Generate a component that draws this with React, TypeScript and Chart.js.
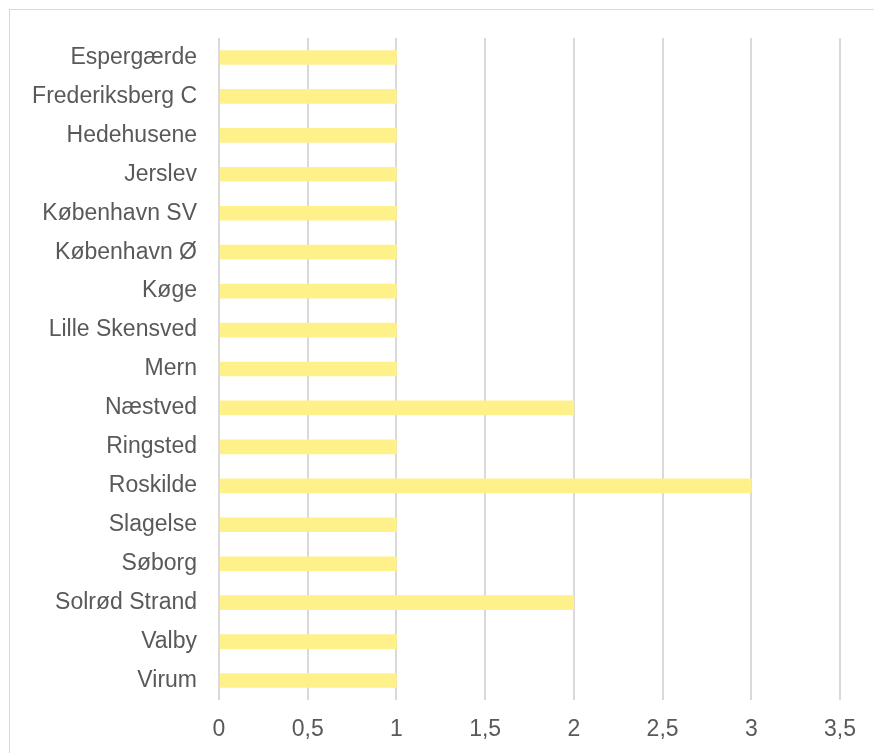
import React, { useEffect, useRef } from "react";
import { Chart, registerables } from "chart.js";

Chart.register(...registerables);

const categories: string[] = [
  "Espergærde",
  "Frederiksberg C",
  "Hedehusene",
  "Jerslev",
  "København SV",
  "København Ø",
  "Køge",
  "Lille Skensved",
  "Mern",
  "Næstved",
  "Ringsted",
  "Roskilde",
  "Slagelse",
  "Søborg",
  "Solrød Strand",
  "Valby",
  "Virum",
];

const values: number[] = [1, 1, 1, 1, 1, 1, 1, 1, 1, 2, 1, 3, 1, 1, 2, 1, 1];

const xMin = 0;
const xMax = 3.5;
const xStep = 0.5;

export default function App() {
  const canvasRef = useRef<HTMLCanvasElement | null>(null);

  useEffect(() => {
    document.body.style.overflow = "hidden";
    const canvas = canvasRef.current;
    if (!canvas) return;
    const chart = new Chart(canvas, {
      type: "bar",
      data: {
        labels: categories,
        datasets: [
          {
            data: values,
            backgroundColor: "#FFF18A",
            borderWidth: 0,
            barThickness: 14,
          },
        ],
      },
      options: {
        indexAxis: "y",
        animation: false,
        responsive: false,
        maintainAspectRatio: false,
        layout: { padding: { top: 38, right: 34, left: 0, bottom: 0 } },
        plugins: {
          legend: { display: false },
          tooltip: { enabled: false },
        },
        scales: {
          x: {
            min: xMin,
            max: xMax,
            border: { display: false },
            grid: {
              color: "#D9D9D9",
              lineWidth: 2,
              drawTicks: false,
              tickLength: 0,
            },
            ticks: {
              stepSize: xStep,
              padding: 16,
              color: "#595959",
              font: { family: "'Liberation Sans', Arial, sans-serif", size: 23 },
              callback: (v: any) => String(Number(v)).replace(".", ","),
            },
            afterFit: (scale: any) => {
              scale.height = 53;
            },
          },
          y: {
            border: { display: false },
            grid: { display: false, drawTicks: false, tickLength: 0 },
            ticks: {
              padding: 22,
              color: "#595959",
              font: { family: "'Liberation Sans', Arial, sans-serif", size: 23 },
            },
            afterFit: (scale: any) => {
              scale.width = 219;
            },
          },
        },
      },
    });
    return () => chart.destroy();
  }, []);

  return (
    <div style={{ position: "fixed", left: 0, top: 0, width: 874, height: 753, background: "#fff", overflow: "hidden" }}>
      <div
        style={{
          position: "absolute",
          left: 9,
          top: 9,
          width: 900,
          height: 800,
          border: "1px solid #D9D9D9",
          boxSizing: "border-box",
        }}
      />
      <canvas
        ref={canvasRef}
        width={874}
        height={753}
        style={{ position: "absolute", left: 0, top: 0, width: 874, height: 753 }}
      />
    </div>
  );
}
